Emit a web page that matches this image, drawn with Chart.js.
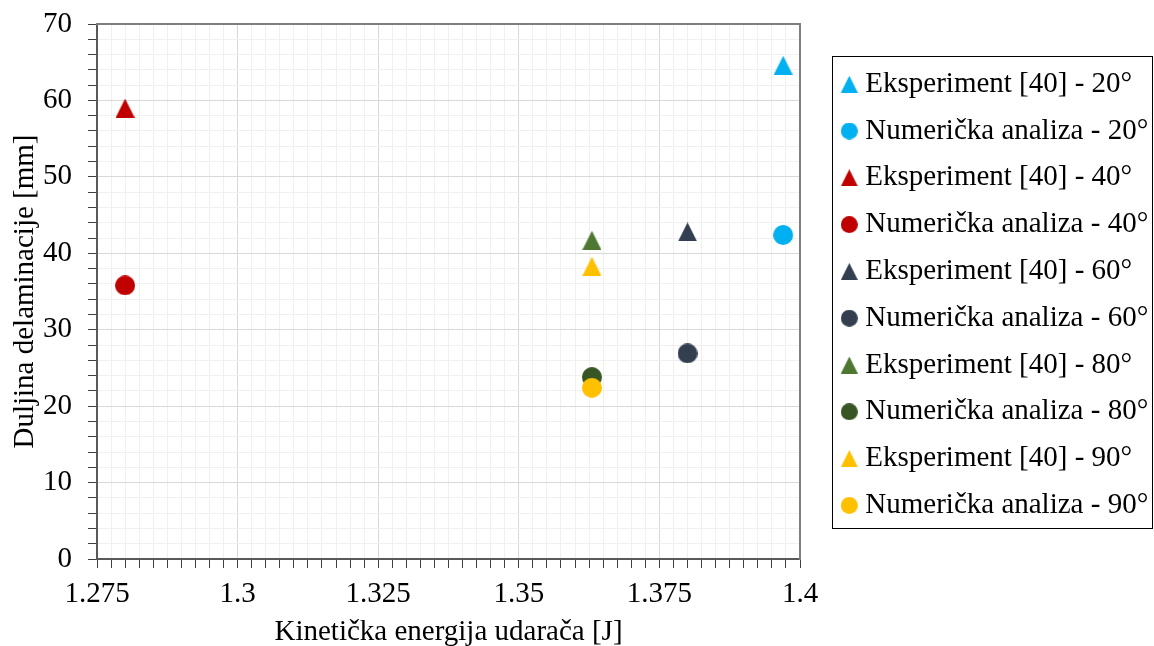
<!DOCTYPE html>
<html>
<head>
<meta charset="utf-8">
<script src="https://cdn.jsdelivr.net/npm/chart.js@4"></script>
<style>
  body { margin: 0; background: #fff; }
</style>
</head>
<body>
<canvas id="delamination" width="1154" height="646"></canvas>
<script>
// data
const angles = ['20°', '40°', '60°', '80°', '90°'];
const energyJ = [1.397, 1.280, 1.380, 1.363, 1.363];
const experimentMm = [64.6, 59.0, 42.8, 41.7, 38.3];
const numericalMm = [42.4, 35.8, 26.9, 23.8, 22.4];
const experimentColors = ['#00B0F0', '#C00000', '#333F50', '#4E7832', '#FFC000'];
const numericalColors = ['#00B0F0', '#C00000', '#333F50', '#375623', '#FFC000'];

const xTicks = [1.275, 1.3, 1.325, 1.35, 1.375, 1.4];
const yTicks = [0, 10, 20, 30, 40, 50, 60, 70];

const FONT = 'Liberation Serif, Times New Roman, serif';
const LEGEND_LEFT = 830;

function makeMarker(shape, color, size) {
    const c = document.createElement('canvas');
    c.width = size;
    c.height = size;
    const g = c.getContext('2d');
    g.fillStyle = color;
    g.beginPath();
    if (shape === 'triangle') {
        g.moveTo(size / 2, 0);
        g.lineTo(size, size);
        g.lineTo(0, size);
        g.closePath();
    } else {
        g.arc(size / 2, size / 2, size / 2, 0, Math.PI * 2);
    }
    g.fill();
    return c;
}

const datasets = [];
const legendMarks = [];
angles.forEach((a, i) => {
    datasets.push({
        label: 'Eksperiment [40] - ' + a,
        data: [{x: energyJ[i], y: experimentMm[i]}],
        backgroundColor: experimentColors[i],
        pointStyle: makeMarker('triangle', experimentColors[i], 19),
        pointRadius: 10,
        order: -datasets.length
    });
    legendMarks.push(makeMarker('triangle', experimentColors[i], 17));
    datasets.push({
        label: 'Numerička analiza - ' + a,
        data: [{x: energyJ[i], y: numericalMm[i]}],
        backgroundColor: numericalColors[i],
        pointStyle: makeMarker('circle', numericalColors[i], 20),
        pointRadius: 10,
        order: -datasets.length
    });
    legendMarks.push(makeMarker('circle', numericalColors[i], 17));
});

function isMajor(v, step) {
    return Math.abs(v / step - Math.round(v / step)) < 1e-6;
}

// fixes the legend width and draws its frame
const legendFrame = {
    id: 'legendFrame',
    beforeUpdate(chart) {
        const lg = chart.legend;
        if (lg && !lg.widthPatched) {
            const fit = lg.fit;
            lg.fit = function () {
                fit.call(this);
                this.width = chart.width - LEGEND_LEFT;
            };
            lg.widthPatched = true;
        }
    },
    afterDraw(chart) {
        const boxes = chart.legend.legendHitBoxes;
        if (!boxes || !boxes.length) return;
        const ctx = chart.ctx;
        const first = boxes[0];
        const last = boxes[boxes.length - 1];
        const top = Math.round(first.top - 13.7) + 0.5;
        const bottom = Math.round(last.top + last.height + 8) + 0.5;
        ctx.save();
        ctx.strokeStyle = '#000';
        ctx.lineWidth = 1;
        ctx.strokeRect(832.5, top, chart.width - 834, bottom - top);
        ctx.restore();
    }
};

new Chart(document.getElementById('delamination'), {
    type: 'scatter',
    data: { datasets: datasets },
    options: {
        responsive: false,
        animation: false,
        events: [],
        layout: { padding: 0 },
        plugins: {
            tooltip: { enabled: false },
            legend: {
                position: 'right',
                align: 'start',
                title: {
                    display: true,
                    text: '',
                    font: { size: 10 },
                    padding: { top: 39.9, bottom: 0 }
                },
                labels: {
                    usePointStyle: true,
                    pointStyleWidth: 3,
                    padding: 17.8,
                    color: '#000',
                    font: { family: FONT, size: 29 },
                    generateLabels: chart => chart.data.datasets.map((ds, i) => ({
                        text: ds.label,
                        pointStyle: legendMarks[i],
                        fillStyle: ds.backgroundColor,
                        strokeStyle: 'transparent',
                        fontColor: '#000',
                        lineWidth: 0,
                        hidden: false,
                        datasetIndex: i
                    }))
                }
            }
        },
        scales: {
            x: {
                type: 'linear',
                position: 'bottom',
                min: xTicks[0],
                max: xTicks[xTicks.length - 1],
                afterFit: s => { s.height = 87; },
                ticks: {
                    stepSize: 0.0025,
                    autoSkip: false,
                    maxRotation: 0,
                    padding: 9,
                    color: '#000',
                    font: { family: FONT, size: 29 },
                    callback: v => isMajor(v, 0.025) ? String(v) : ''
                },
                grid: {
                    color: c => isMajor(c.tick.value, 0.025) ? '#d9d9d9' : '#f0f0f0',
                    tickColor: '#404040',
                    tickLength: 9
                },
                border: { color: '#595959', width: 2 },
                title: {
                    display: true,
                    text: 'Kinetička energija udarača [J]',
                    color: '#000',
                    font: { family: FONT, size: 29 },
                    padding: { top: 0, bottom: -4 }
                }
            },
            y: {
                type: 'linear',
                position: 'left',
                min: yTicks[0],
                max: yTicks[yTicks.length - 1],
                afterFit: s => {
                    s.width = 97;
                    s.paddingTop = 0;
                    s.paddingBottom = 0;
                },
                ticks: {
                    stepSize: 2,
                    autoSkip: false,
                    padding: 16,
                    color: '#000',
                    font: { family: FONT, size: 29 },
                    callback: v => isMajor(v, 10) ? String(v) : ''
                },
                grid: {
                    color: c => isMajor(c.tick.value, 10) ? '#d9d9d9' : '#f0f0f0',
                    tickColor: '#404040',
                    tickLength: 9
                },
                border: { color: '#595959', width: 2 },
                title: {
                    display: true,
                    text: 'Duljina delaminacije [mm]',
                    color: '#000',
                    font: { family: FONT, size: 29 },
                    padding: { top: 8, bottom: 0 }
                }
            },
            top: {
                type: 'linear',
                axis: 'x',
                position: 'top',
                afterFit: s => { s.height = 24; },
                ticks: { display: false },
                grid: { display: false },
                border: { color: '#7f7f7f', width: 2 }
            },
            right: {
                type: 'linear',
                axis: 'y',
                position: 'right',
                afterFit: s => { s.width = LEGEND_LEFT - 800; },
                ticks: { display: false },
                grid: { display: false },
                border: { color: '#7f7f7f', width: 2 }
            }
        }
    },
    plugins: [legendFrame]
});
</script>
</body>
</html>
